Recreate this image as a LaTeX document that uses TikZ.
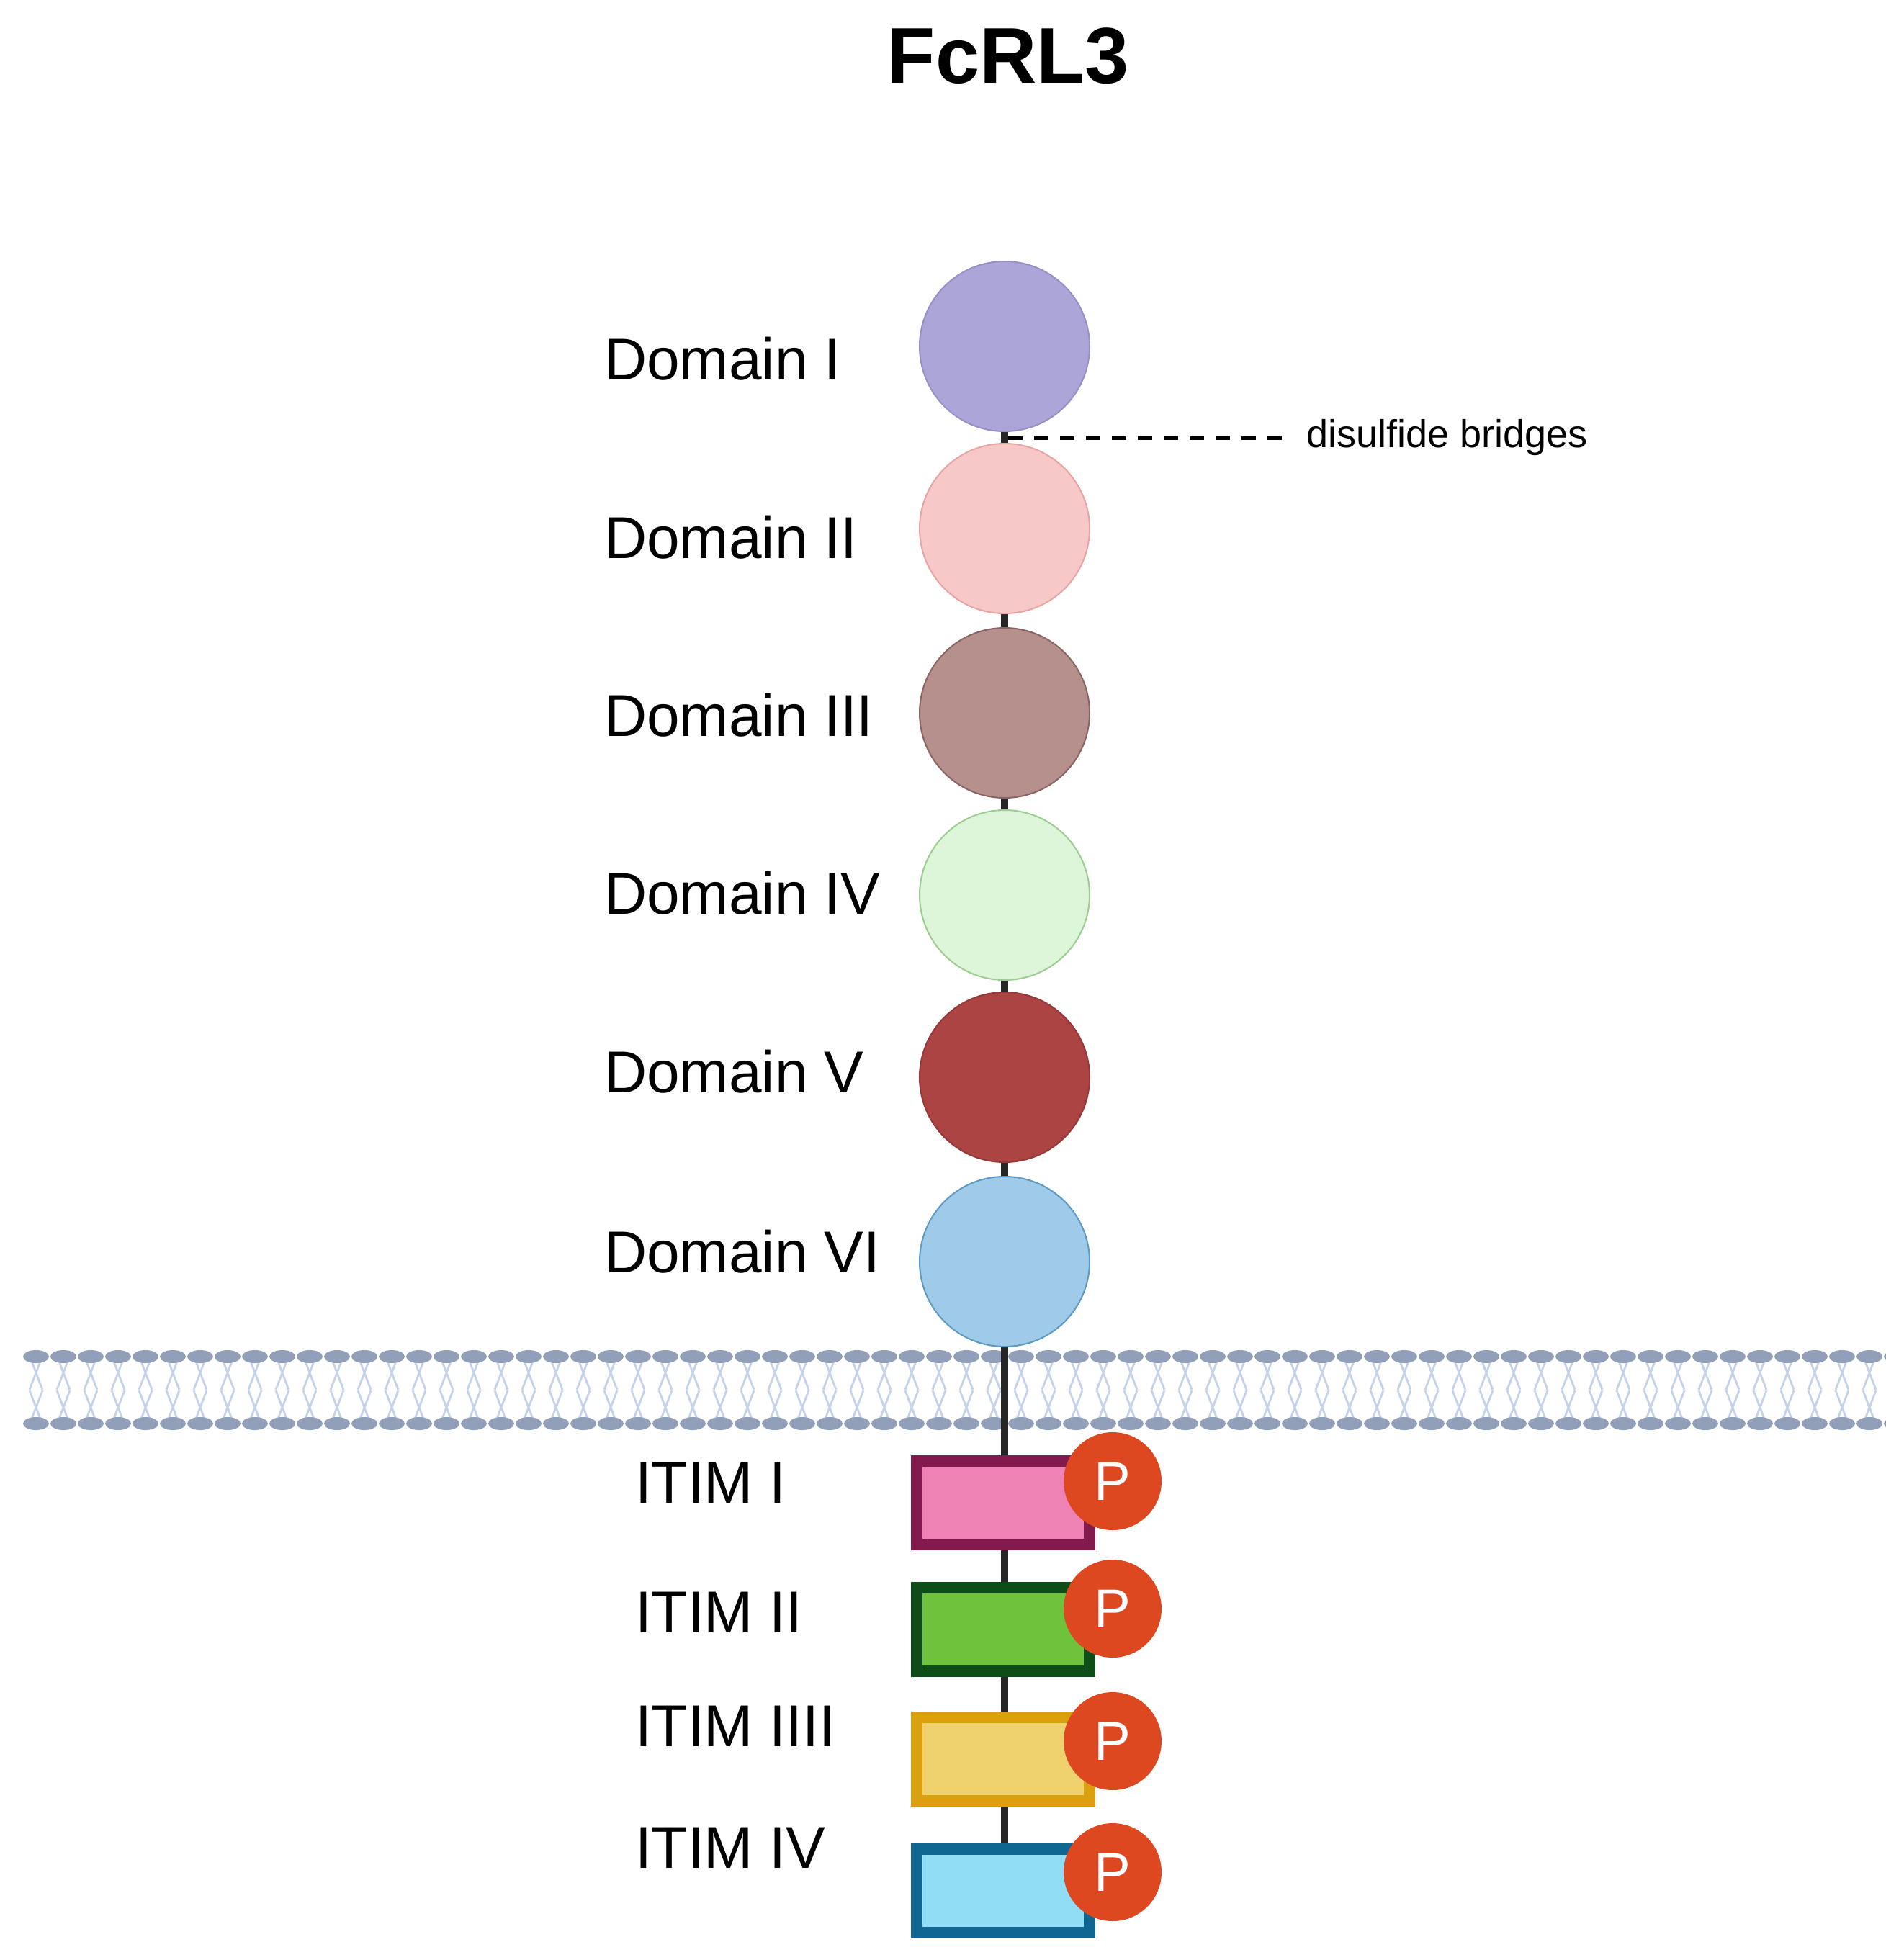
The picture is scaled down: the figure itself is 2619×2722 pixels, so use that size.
\documentclass[tikz,border=0pt]{standalone}
\usepackage{fontspec}
\setmainfont{Liberation Sans}
\begin{document}
\begin{tikzpicture}[x=0.25pt,y=-0.25pt,
  dom/.style={circle,minimum size=59pt,inner sep=0pt,line width=0.5pt},
  itim/.style={rectangle,minimum width=60pt,minimum height=29pt,inner sep=0pt,line width=4pt},
  pho/.style={circle,fill=phos,minimum size=34pt,inner sep=0pt,text=white,font=\fontsize{19}{19}\selectfont},
  lab/.style={anchor=west,font=\fontsize{20.5}{20.5}\selectfont},
  stem/.style={line width=2.5pt,black!85}]
\definecolor{phos}{HTML}{DD4820}
\useasboundingbox (0,0) rectangle (2619,2722);
\fill[white] (0,0) rectangle (2619,2722);
% membrane
\foreach \i in {0,...,68} {
  \pgfmathsetmacro\xx{50+38*\i}
  \draw[line width=0.7pt,color={rgb,255:red,197;green,211;blue,234}]
    (\xx-7,1888) -- (\xx+9,1930) (\xx+7,1888) -- (\xx-9,1930)
    (\xx-7,1973) -- (\xx+9,1931) (\xx+7,1973) -- (\xx-9,1931);
  \fill[color={rgb,255:red,145;green,160;blue,184}] (\xx,1884) ellipse (18 and 9);
  \fill[color={rgb,255:red,145;green,160;blue,184}] (\xx,1977) ellipse (18 and 9);
}
\node[font=\bfseries\fontsize{27.5}{27.5}\selectfont] (title) at (1400,78) {FcRL3};
\coordinate (top) at (1395,481);
\coordinate (bot) at (1395,2626);
\draw[stem] (top) -- (bot);
\node[dom,fill={rgb,255:red,172;green,166;blue,216},draw={rgb,255:red,150;green,143;blue,200}] (d1) at (1395,481) {};
\node[dom,fill={rgb,255:red,247;green,200;blue,200},draw={rgb,255:red,232;green,163;blue,163}] (d2) at (1395,734) {};
\node[dom,fill={rgb,255:red,181;green,144;blue,140},draw={rgb,255:red,138;green,100;blue,96}] (d3) at (1395,990) {};
\node[dom,fill={rgb,255:red,221;green,245;blue,216},draw={rgb,255:red,156;green,204;blue,146}] (d4) at (1395,1243) {};
\node[dom,fill={rgb,255:red,172;green,68;blue,68},draw={rgb,255:red,150;green,56;blue,56}] (d5) at (1395,1496) {};
\node[dom,fill={rgb,255:red,159;green,203;blue,232},draw={rgb,255:red,91;green,154;blue,196}] (d6) at (1395,1752) {};
\node[lab] (l1) at (825,498) {Domain I};
\node[lab] (l2) at (825,746) {Domain II};
\node[lab] (l3) at (825,993) {Domain III};
\node[lab] (l4) at (825,1240) {Domain IV};
\node[lab] (l5) at (825,1488) {Domain V};
\node[lab] (l6) at (825,1738) {Domain VI};
\coordinate (ss) at (1400,608);
\node[anchor=west,font=\fontsize{13.5}{13.5}\selectfont] (dis) at (1800,608) {disulfide bridges};
\draw[line width=1.6pt,dash pattern=on 5pt off 4pt] (ss) -- ([xshift=-3pt]dis.west);
\node[itim,fill={rgb,255:red,238;green,130;blue,180},draw={rgb,255:red,130;green,26;blue,78}] (b1) at (1393,2087) {};
\node[itim,fill={rgb,255:red,111;green,194;blue,60},draw={rgb,255:red,14;green,76;blue,24}] (b2) at (1393,2263) {};
\node[itim,fill={rgb,255:red,238;green,210;blue,110},draw={rgb,255:red,218;green,160;blue,16}] (b3) at (1393,2443) {};
\node[itim,fill={rgb,255:red,145;green,221;blue,245},draw={rgb,255:red,15;green,103;blue,145}] (b4) at (1393,2626) {};
\node[pho] (p1) at (1545,2057) {P};
\node[pho] (p2) at (1545,2234) {P};
\node[pho] (p3) at (1545,2418) {P};
\node[pho] (p4) at (1545,2600) {P};
\node[lab] (t1) at (868,2059) {ITIM I};
\node[lab] (t2) at (868,2239) {ITIM II};
\node[lab] (t3) at (868,2397) {ITIM IIII};
\node[lab] (t4) at (868,2566) {ITIM IV};
\end{tikzpicture}
\end{document}
